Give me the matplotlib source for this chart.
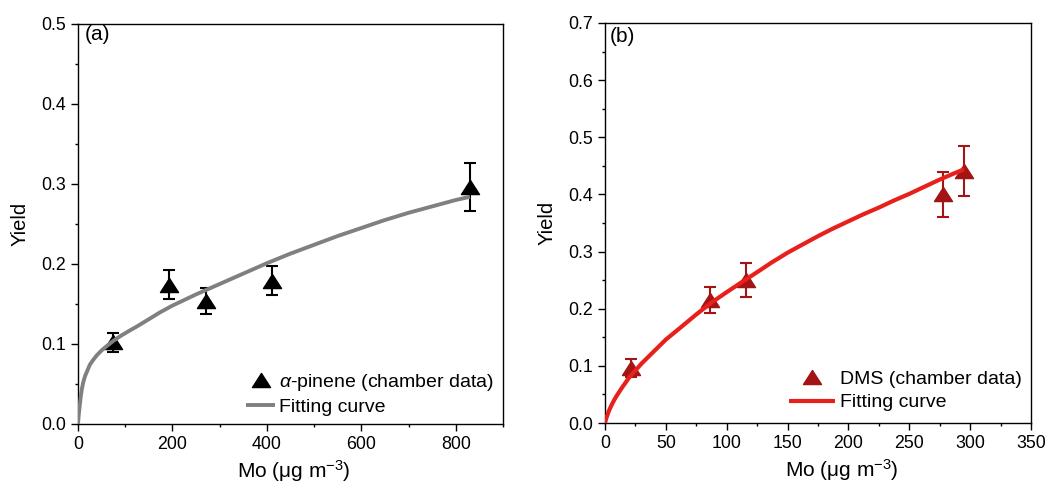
import matplotlib
matplotlib.use("Agg")
import matplotlib.pyplot as plt
from matplotlib.ticker import MultipleLocator, FormatStrFormatter
from matplotlib.path import Path

plt.rcParams['font.family'] = ['Liberation Sans', 'DejaVu Sans']
plt.rcParams['mathtext.fontset'] = 'custom'
plt.rcParams['mathtext.rm'] = 'Liberation Sans'
plt.rcParams['mathtext.it'] = 'Liberation Sans:italic'
plt.rcParams['mathtext.default'] = 'regular'

# Panel (a): alpha-pinene
a_x = [75, 192, 270, 410, 830]
a_y = [0.102, 0.174, 0.154, 0.179, 0.296]
a_err = [0.012, 0.018, 0.016, 0.018, 0.030]
fit_a_x = [0, 1, 2, 4, 6, 8, 11, 15, 20, 25, 32, 40, 50, 60, 75, 90, 110, 125,
           150, 175, 200, 250, 300, 350, 400, 450, 500, 550, 600, 650, 700,
           750, 800, 830]
fit_a_y = [0, 0.008, 0.014, 0.025, 0.035, 0.043, 0.052, 0.060, 0.067, 0.074,
           0.080, 0.086, 0.092, 0.097, 0.104, 0.110, 0.117, 0.122, 0.131, 0.140,
           0.148, 0.162, 0.175, 0.188, 0.201, 0.213, 0.224, 0.235, 0.245, 0.255,
           0.264, 0.272, 0.280, 0.284]

# Panel (b): DMS
b_x = [21, 86, 116, 278, 295]
b_y = [0.096, 0.215, 0.250, 0.400, 0.441]
b_err = [0.016, 0.023, 0.030, 0.040, 0.044]
fit_b_x = [0, 1, 2, 3, 4, 6, 8, 10, 14, 20, 25, 30, 40, 50, 62, 75, 87, 100,
           112, 125, 137, 150, 162, 175, 187, 200, 212, 225, 237, 250, 262,
           275, 287, 295]
fit_b_y = [0, 0.008, 0.014, 0.020, 0.025, 0.034, 0.042, 0.049, 0.062, 0.080,
           0.092, 0.104, 0.125, 0.146, 0.167, 0.190, 0.210, 0.229, 0.246, 0.264,
           0.281, 0.298, 0.312, 0.327, 0.340, 0.353, 0.365, 0.377, 0.389, 0.401,
           0.413, 0.426, 0.437, 0.444]

tri = Path([(0, 0.78), (-1, -0.78), (1, -0.78), (0, 0.78)],
           [Path.MOVETO, Path.LINETO, Path.LINETO, Path.CLOSEPOLY])

fig = plt.figure(figsize=(10.46, 4.84), dpi=100)
axa = fig.add_axes([78/1046, 60/484, 425/1046, 400/484])
axb = fig.add_axes([605/1046, 61/484, 426/1046, 400/484])


def style(ax, xmax, xmaj, xmin, ymax, xlab_pos):
    ax.set_xlim(0, xmax)
    ax.set_ylim(0, ymax)
    ax.xaxis.set_major_locator(MultipleLocator(xmaj))
    ax.xaxis.set_minor_locator(MultipleLocator(xmin))
    ax.yaxis.set_major_locator(MultipleLocator(0.1))
    ax.yaxis.set_minor_locator(MultipleLocator(0.05))
    ax.yaxis.set_major_formatter(FormatStrFormatter('%.1f'))
    ax.tick_params(which='major', direction='out', length=4.8, width=1.0,
                   labelsize=12.8, pad=3.8, top=False, right=False)
    ax.tick_params(which='minor', direction='out', length=2.5, width=1.0,
                   top=False, right=False)
    for s in ax.spines.values():
        s.set_linewidth(1.0)
    ax.set_xlabel('Mo (μg m$^{-3}$)', fontsize=15, labelpad=1)
    ax.xaxis.set_label_coords(xlab_pos, -0.085)
    ax.set_ylabel('Yield', fontsize=14.5, labelpad=8)


style(axa, 900, 200, 100, 0.5, 0.508)
style(axb, 350, 50, 25, 0.7, 0.556)

# Panel a
axa.errorbar(a_x, a_y, yerr=a_err, fmt='none', ecolor='black', elinewidth=1.5,
             capsize=4.5, capthick=1.5, zorder=3)
axa.plot(a_x, a_y, linestyle='none', marker=tri, markersize=13, color='black',
         zorder=4, label=r'$\mathit{\alpha}$-pinene (chamber data)')
axa.plot(fit_a_x, fit_a_y, color='#808080', linewidth=2.8, zorder=5,
         solid_capstyle='butt', label='Fitting curve')
axa.text(0.016, 0.997, '(a)', transform=axa.transAxes, fontsize=15,
         ha='left', va='top')
axa.legend(loc='lower right', bbox_to_anchor=(1.01, -0.013), frameon=False,
           fontsize=14, handlelength=1.5, handletextpad=0.2,
           labelspacing=0.28, borderaxespad=0.3)

# Panel b
dark = '#a31414'
axb.errorbar(b_x, b_y, yerr=b_err, fmt='none', ecolor=dark, elinewidth=1.5,
             capsize=4.5, capthick=1.5, zorder=3)
axb.plot(b_x, b_y, linestyle='none', marker=tri, markersize=13, color=dark,
         zorder=4, label='DMS (chamber data)')
axb.plot(fit_b_x, fit_b_y, color='#e8201b', linewidth=3.0, zorder=5,
         solid_capstyle='butt', label='Fitting curve')
axb.text(0.012, 0.99, '(b)', transform=axb.transAxes, fontsize=15,
         ha='left', va='top')
axb.legend(loc='lower right', bbox_to_anchor=(1.01, -0.005), frameon=False,
           fontsize=14, handlelength=2.37, handletextpad=0.25,
           labelspacing=0.3, borderaxespad=0.3)

fig.savefig('out.png', dpi=100)
